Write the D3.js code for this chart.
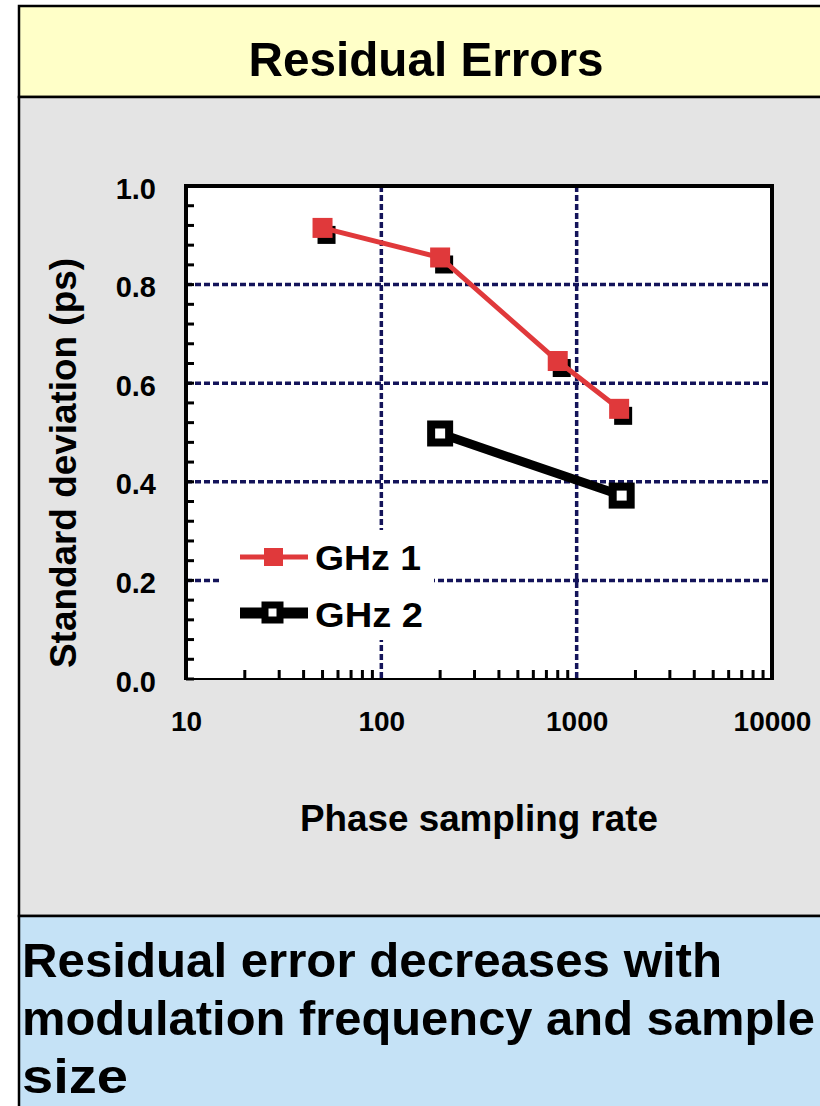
<!DOCTYPE html>
<html><head><meta charset="utf-8">
<script src="https://cdn.jsdelivr.net/npm/d3@7"></script>
<style>html,body{margin:0;padding:0;background:#fff;}svg{display:block;}text{font-family:"Liberation Sans",Arial,sans-serif;font-weight:bold;}</style>
</head><body>
<script>
// ---- data ----
const title = "Residual Errors";
const xTitle = "Phase sampling rate";
const yTitle = "Standard deviation (ps)";
const caption = ["Residual error decreases with", "modulation frequency and sample", "size"];
const seriesNames = ["GHz 1", "GHz 2"];
const ghz1X = [50, 200, 800, 1650];
const ghz1Y = [0.915, 0.855, 0.645, 0.548];
const ghz2X = [200, 1700];
const ghz2Y = [0.498, 0.372];
const xTickValues = [10, 100, 1000, 10000];
const xTickLabels = ["10", "100", "1000", "10000"];
const yTickValues = [0, 0.2, 0.4, 0.6, 0.8, 1.0];
const yTickLabels = ["0.0", "0.2", "0.4", "0.6", "0.8", "1.0"];
const xGrid = [100, 1000];
const yGrid = [0.2, 0.4, 0.6, 0.8];

const W = 820, H = 1106;
const svg = d3.select("body").append("svg").attr("width", W).attr("height", H);

// slide panels
svg.append("rect").attr("x", 19).attr("y", 6).attr("width", W).attr("height", 91).attr("fill", "#FFFFC8").attr("stroke", "#000").attr("stroke-width", 2.5);
svg.append("rect").attr("x", 19).attr("y", 97).attr("width", W).attr("height", 819).attr("fill", "#E4E4E4").attr("stroke", "#000").attr("stroke-width", 2.5);
svg.append("rect").attr("x", 19).attr("y", 916).attr("width", W).attr("height", 300).attr("fill", "#C5E2F6").attr("stroke", "#000").attr("stroke-width", 2.5);

svg.append("text").attr("x", 426).attr("y", 76).attr("text-anchor", "middle").attr("font-size", 49)
  .attr("textLength", 355).attr("lengthAdjust", "spacingAndGlyphs").attr("fill", "#000").text(title);

const capLens = [700, 793, 106];
caption.forEach((t, i) => {
  svg.append("text").attr("x", 22).attr("y", 977 + i * 58).attr("font-size", 49)
    .attr("textLength", capLens[i]).attr("lengthAdjust", "spacingAndGlyphs").attr("fill", "#000").text(t);
});

// plot
const L = 186, R = 772, T = 186, B = 679;
const x = d3.scaleLog().domain([10, 10000]).range([L, R]);
const y = d3.scaleLinear().domain([0, 1]).range([B, T]);

svg.append("rect").attr("x", L).attr("y", T).attr("width", R - L).attr("height", B - T).attr("fill", "#fff");

const grid = svg.append("g").attr("stroke", "#14145A").attr("stroke-width", 3.5).attr("stroke-dasharray", "6,3");
grid.selectAll("line.h").data(yGrid).join("line").attr("x1", L).attr("x2", R).attr("y1", d => y(d)).attr("y2", d => y(d));
grid.selectAll("line.v").data(xGrid).join("line").attr("y1", T).attr("y2", B).attr("x1", d => x(d)).attr("x2", d => x(d));

// legend background
svg.append("rect").attr("x", 222).attr("y", 530).attr("width", 212).attr("height", 110).attr("fill", "#fff");

// minor ticks
const yMinor = d3.range(0, 1.0001, 0.04);
svg.append("g").selectAll("line").data(yMinor).join("line")
  .attr("x1", L).attr("x2", L + 8).attr("y1", d => y(d)).attr("y2", d => y(d))
  .attr("stroke", "#000").attr("stroke-width", 3);
const xMinor = [];
[10, 100, 1000].forEach(b => { for (let k = 2; k <= 9; k++) xMinor.push(b * k); });
svg.append("g").selectAll("line").data(xMinor).join("line")
  .attr("x1", d => x(d)).attr("x2", d => x(d)).attr("y1", B).attr("y2", B - 9)
  .attr("stroke", "#000").attr("stroke-width", 3);

// frame
svg.append("line").attr("x1", L).attr("x2", L).attr("y1", T - 2).attr("y2", B + 1).attr("stroke", "#000").attr("stroke-width", 4);
svg.append("line").attr("x1", L - 2).attr("x2", R + 2).attr("y1", T).attr("y2", T).attr("stroke", "#000").attr("stroke-width", 4);
svg.append("line").attr("x1", R).attr("x2", R).attr("y1", T - 2).attr("y2", B + 1).attr("stroke", "#000").attr("stroke-width", 4);
svg.append("line").attr("x1", L - 2).attr("x2", R + 2).attr("y1", B).attr("y2", B).attr("stroke", "#000").attr("stroke-width", 2);

// axes labels
const xAxis = d3.axisBottom(x).tickValues(xTickValues).tickFormat((d, i) => xTickLabels[i]).tickSize(0).tickPadding(32);
const gx = svg.append("g").attr("transform", `translate(0,${B})`).call(xAxis);
gx.select(".domain").remove();
gx.selectAll("text").attr("font-size", 28).attr("fill", "#000").style("font-family", "'Liberation Sans',Arial,sans-serif").style("font-weight", "bold");

const yAxis = d3.axisLeft(y).tickValues(yTickValues).tickFormat((d, i) => yTickLabels[i]).tickSize(0).tickPadding(30);
const gy = svg.append("g").attr("transform", `translate(${L},0)`).call(yAxis);
gy.select(".domain").remove();
gy.selectAll("text").attr("font-size", 29).attr("dy", "0.42em").attr("fill", "#000").style("font-family", "'Liberation Sans',Arial,sans-serif").style("font-weight", "bold");

svg.append("text").attr("x", 479).attr("y", 831).attr("text-anchor", "middle").attr("font-size", 36)
  .attr("textLength", 358).attr("lengthAdjust", "spacingAndGlyphs").attr("fill", "#000").text(xTitle);
svg.append("text").attr("transform", "translate(76,463) rotate(-90)").attr("text-anchor", "middle").attr("font-size", 36)
  .attr("textLength", 410).attr("lengthAdjust", "spacingAndGlyphs").attr("fill", "#000").text(yTitle);

// series GHz 1
const red = "#E0393B";
const line = d3.line().x(d => x(d[0])).y(d => y(d[1]));
const s1 = ghz1X.map((v, i) => [v, ghz1Y[i]]);
const s2 = ghz2X.map((v, i) => [v, ghz2Y[i]]);
svg.append("g").selectAll("rect").data(s1).join("rect")
  .attr("x", d => x(d[0]) - 9 + 4).attr("y", d => y(d[1]) - 9 + 7).attr("width", 18).attr("height", 18).attr("fill", "#000");
svg.append("path").datum(s1).attr("d", line).attr("fill", "none").attr("stroke", red).attr("stroke-width", 5);
svg.append("g").selectAll("rect").data(s1).join("rect")
  .attr("x", d => x(d[0]) - 10).attr("y", d => y(d[1]) - 10).attr("width", 20).attr("height", 20).attr("fill", red);

// series GHz 2
svg.append("path").datum(s2).attr("d", line).attr("fill", "none").attr("stroke", "#000").attr("stroke-width", 9);
svg.append("g").selectAll("rect").data(s2).join("rect")
  .attr("x", d => x(d[0]) - 9).attr("y", d => y(d[1]) - 9).attr("width", 18).attr("height", 18).attr("fill", "#fff").attr("stroke", "#000").attr("stroke-width", 8);

// legend
const leg = svg.append("g");
leg.append("line").attr("x1", 240).attr("x2", 308).attr("y1", 557).attr("y2", 557).attr("stroke", red).attr("stroke-width", 5);
leg.append("rect").attr("x", 264).attr("y", 548).attr("width", 19).attr("height", 18).attr("fill", red);
leg.append("text").attr("x", 315).attr("y", 570).attr("font-size", 35).attr("textLength", 106).attr("lengthAdjust", "spacingAndGlyphs").attr("fill", "#000").text(seriesNames[0]);
leg.append("line").attr("x1", 240).attr("x2", 308).attr("y1", 613).attr("y2", 613).attr("stroke", "#000").attr("stroke-width", 11);
leg.append("rect").attr("x", 265).attr("y", 605).attr("width", 15).attr("height", 15).attr("fill", "#fff").attr("stroke", "#000").attr("stroke-width", 7);
leg.append("text").attr("x", 315).attr("y", 627).attr("font-size", 35).attr("textLength", 108).attr("lengthAdjust", "spacingAndGlyphs").attr("fill", "#000").text(seriesNames[1]);
</script>
</body></html>
